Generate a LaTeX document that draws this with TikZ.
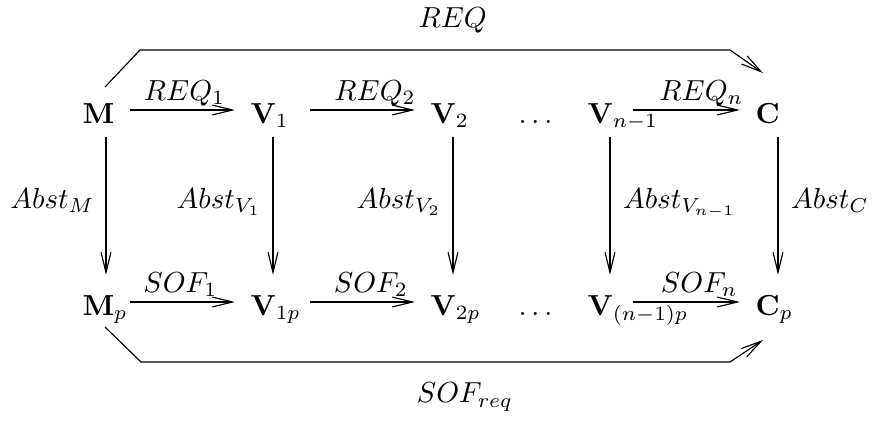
\documentclass[tikz,border=0pt]{standalone}
\usepackage{amsmath, amssymb}
\usetikzlibrary{calc, arrows.meta}

\begin{document}
\begin{tikzpicture}[x=0.345pt, y=-0.345pt,
  obj/.style={anchor=base west, inner sep=0pt},
  arr/.style={-{Straight Barb[length=7pt,width=3.4pt]}},
  lbl/.style={anchor=base, inner sep=0pt, yshift=3.4pt},
  lblleft/.style={anchor=base east, inner sep=0pt, xshift=-3.8pt, yshift=-0.7pt},
  lblright/.style={anchor=base west, inner sep=0pt, xshift=4.3pt, yshift=-0.7pt}]
\useasboundingbox (0,0) rectangle (872,425);
% top row
\node[obj] (M) at (82,123) {$\mathbf{M}$};
\node[obj] (V1) at (250,123) {$\mathbf{V}_1$};
\node[obj] (V2) at (430,123) {$\mathbf{V}_2$};
\node[obj] (dots) at (518,123) {$\ldots$};
\node[obj] (Vn1) at (587,123) {$\mathbf{V}_{n-1}$};
\node[obj] (C) at (755,123) {$\mathbf{C}$};
% bottom row
\node[obj] (Mp) at (82,315) {$\mathbf{M}_p$};
\node[obj] (V1p) at (250,315) {$\mathbf{V}_{1p}$};
\node[obj] (V2p) at (430,315) {$\mathbf{V}_{2p}$};
\node[obj] (dotsp) at (518,315) {$\ldots$};
\node[obj] (Vn1p) at (587,315) {$\mathbf{V}_{(n-1)p}$};
\node[obj] (Cp) at (755,315) {$\mathbf{C}_p$};
% horizontal arrows
\draw[arr] ($(M.base west)+(48,-13)$) -- ($(V1.base west)+(-15,-13)$) node[lbl, pos=0.52] (req1) {$REQ_1$};
\draw[arr] ($(V1.base west)+(60,-13)$) -- ($(V2.base west)+(-15,-13)$) node[lbl, pos=0.62] (req2) {$REQ_2$};
\draw[arr] ($(Vn1.base west)+(46,-13)$) -- ($(C.base west)+(-15,-13)$) node[lbl, pos=0.64] (reqn) {$REQ_n$};
\draw[arr] ($(Mp.base west)+(48,-13)$) -- ($(V1p.base west)+(-15,-13)$) node[lbl, pos=0.48] (sof1) {$SOF_1$};
\draw[arr] ($(V1p.base west)+(60,-13)$) -- ($(V2p.base west)+(-15,-13)$) node[lbl, pos=0.58] (sof2) {$SOF_2$};
\draw[arr] ($(Vn1p.base west)+(46,-13)$) -- ($(Cp.base west)+(-15,-13)$) node[lbl, pos=0.62] (sofn) {$SOF_n$};
% vertical arrows
\draw[arr] ($(M.base west)+(24,14)$) -- ($(Mp.base west)+(24,-40)$) node[lblleft, midway] (absm) {$Abst_M$};
\draw[arr] ($(V1.base west)+(23,14)$) -- ($(V1p.base west)+(23,-40)$) node[lblleft, midway] (absv1) {$Abst_{V_1}$};
\draw[arr] ($(V2.base west)+(23,14)$) -- ($(V2p.base west)+(23,-40)$) node[lblleft, midway] (absv2) {$Abst_{V_2}$};
\draw[arr] ($(Vn1.base west)+(23,14)$) -- ($(Vn1p.base west)+(23,-40)$) node[lblright, midway] (absvn1) {$Abst_{V_{n-1}}$};
\draw[arr] ($(C.base west)+(23,14)$) -- ($(Cp.base west)+(23,-40)$) node[lblright, midway] (absc) {$Abst_C$};
% outer arrows
\draw[arr] ($(M.base west)+(23,-36)$) -- ($(M.base west)+(58,-73)$)
  -- ($(C.base west)+(-25,-73)$) node[anchor=base, pos=0.53, yshift=7.6pt] (req) {$REQ$}
  -- ($(C.base west)+(8,-50)$);
\draw[arr] ($(Mp.base west)+(23,12)$) -- ($(Mp.base west)+(59,47)$)
  -- ($(Cp.base west)+(-25,47)$) node[anchor=base, pos=0.55, yshift=-14.1pt] (sofreq) {$SOF_{req}$}
  -- ($(Cp.base west)+(8,25)$);
\end{tikzpicture}
\end{document}
